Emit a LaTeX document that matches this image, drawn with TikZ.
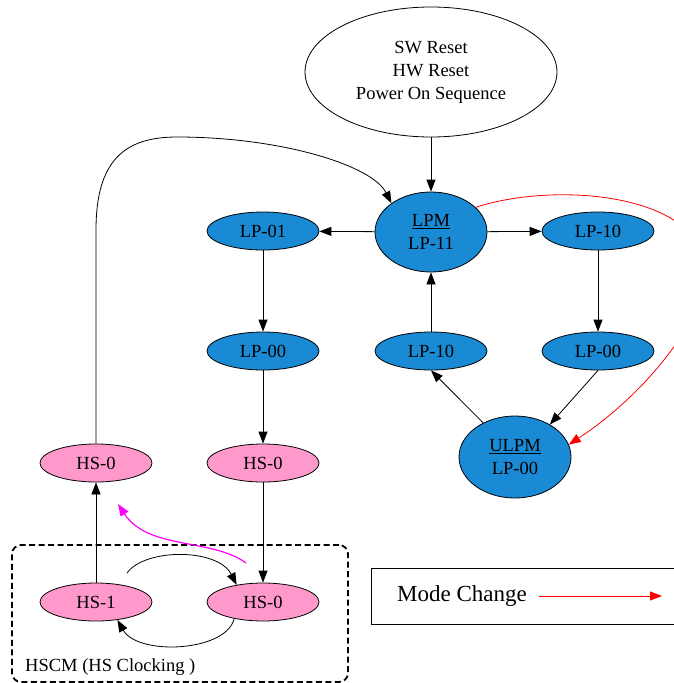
\documentclass[tikz,border=0pt]{standalone}
\usepackage{fontspec}
\setmainfont{Liberation Serif}
\usetikzlibrary{shapes.geometric,arrows.meta}
\definecolor{lpblue}{RGB}{26,138,212}
\definecolor{hspink}{RGB}{255,153,204}
\definecolor{mgnt}{RGB}{255,0,255}
\begin{document}
\begin{tikzpicture}[x=1pt,y=-1pt,
  every node/.style={font=\fontsize{18.5}{23}\selectfont},
  st/.style={ellipse,draw,line width=0.8pt,inner sep=0pt,minimum width=112pt,minimum height=38pt,align=center},
  lp/.style={st,fill=lpblue},
  hs/.style={st,fill=hspink},
  arr/.style={-{Triangle[length=12pt,width=9pt]},line width=0.8pt},
]
\useasboundingbox (0,0) rectangle (673,683);

% nodes
\node[st,minimum width=252pt,minimum height=130pt] (top) at (431,72) {SW Reset\\HW Reset\\Power On Sequence};
\node[lp,minimum height=80pt] (lpm) at (431,232) {\underline{LPM}\\LP-11};
\node[lp] (lp01) at (263,231) {LP-01};
\node[lp] (lp10r) at (598,231) {LP-10};
\node[lp] (lp00l) at (263,351) {LP-00};
\node[lp] (lp10m) at (431,351) {LP-10};
\node[lp] (lp00r) at (598,351) {LP-00};
\node[lp,minimum height=82pt] (ulpm) at (515,457) {\underline{ULPM}\\LP-00};
\node[hs] (hs0l) at (96,463) {HS-0};
\node[hs] (hs0m) at (263,463) {HS-0};
\node[hs] (hs1) at (96,602) {HS-1};
\node[hs] (hs0b) at (263,602) {HS-0};

% HSCM box
\node[draw,dash pattern=on 6pt off 3.5pt,line width=1.8pt,rounded corners=9pt,minimum width=336pt,minimum height=137pt,inner sep=0pt] (hscm) at (180,613.5) {};
\node[anchor=west,font=\fontsize{18.5}{21}\selectfont,inner sep=0pt] (hscmlbl) at (25,667) {HSCM (HS Clocking )};

% legend
\node[draw,line width=1pt,minimum width=330pt,minimum height=56pt,inner sep=0pt] (legend) at (536,596) {};
\node[anchor=west,font=\fontsize{23}{26}\selectfont,inner sep=0pt] (mc) at (397,596) {Mode Change};
\coordinate (la) at (539,596);
\coordinate (lb) at (662,596);
\draw[arr,red,line width=1pt] (la) -- (lb);

% connectors
\draw[arr] (top) -- (lpm);
\draw[arr] (lpm) -- (lp01);
\draw[arr] (lpm) -- (lp10r);
\draw[arr] (lp01) -- (lp00l);
\draw[arr] (lp10r) -- (lp00r);
\draw[arr] (lp10m) -- (lpm);
\draw[arr] (ulpm.133) -- (lp10m.south);
\draw[arr] (lp00r.south) -- (ulpm.43);
\draw[arr] (lp00l) -- (hs0m);
\draw[arr] (hs0m) -- (hs0b);
\draw[arr] (hs1) -- (hs0l);

\coordinate (bend) at (96,230);
\draw[arr] (hs0l.north) -- (bend) .. controls (96,160) and (125,137) .. (177,137)
  .. controls (280,137) and (372,165) .. (lpm.144);

\coordinate (ta) at (127,573);
\draw[arr] (ta) .. controls (145,548) and (218,548) .. (hs0b.147);
\draw[arr] (hs0b.210) .. controls (226,652) and (138,656) .. (hs1.-40);

\coordinate (ma) at (246,563);
\coordinate (mb) at (118,504);
\draw[-{Triangle[length=12pt,width=9pt]},mgnt,line width=1.2pt] (ma) .. controls (212,538) and (148,550) .. (mb);

\draw[arr,red] (lpm.29) .. controls (560,180) and (710,195) .. (705,275)
  .. controls (702,325) and (640,398) .. (ulpm.13);
\end{tikzpicture}
\end{document}
